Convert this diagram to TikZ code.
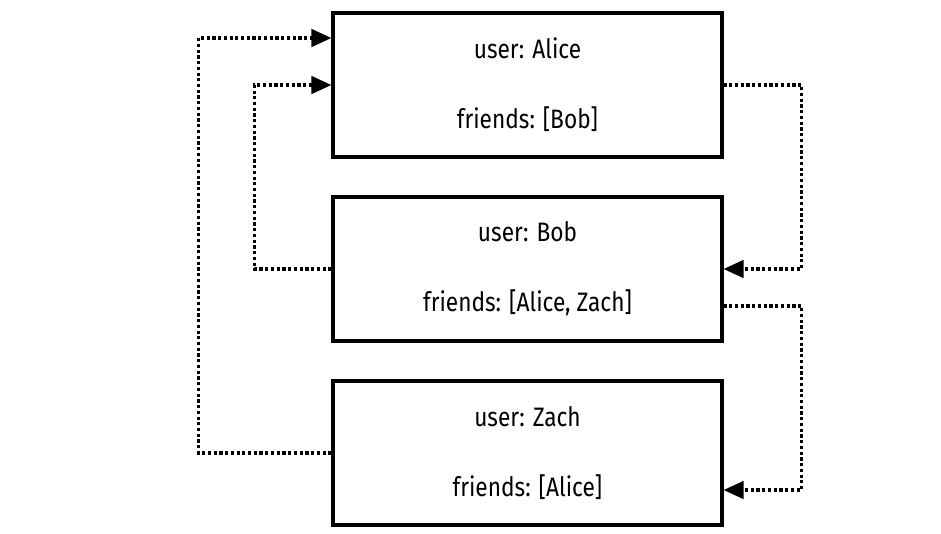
\documentclass[tikz,border=0pt]{standalone}
\usepackage{fontspec}
\setmainfont{Fira Sans}[FakeStretch=0.85]
\usepackage{tikz}
\usetikzlibrary{positioning,arrows.meta,calc}
\tikzset{
  userbox/.style={draw, line width=2.3pt, minimum width=389*0.75pt, minimum height=144*0.75pt,
    align=center, inner sep=0pt, font=\fontsize{20}{52.5}\selectfont},
  friendlink/.style={line width=2.6pt, dash pattern=on 2.4pt off 1.9pt,
    -{Triangle[length=15pt, width=13pt]}},
}

\begin{document}
\begin{tikzpicture}[x=0.75pt, y=-0.75pt]
  \useasboundingbox (0,0) rectangle (941,533);
  % users
  \node[userbox] (alice) at (527.5,85) {user: Alice\\friends: [Bob]};
  \node[userbox] (bob) at (527.5,269) {user: Bob\\friends: [Alice, Zach]};
  \node[userbox] (zach) at (527.5,453) {user: Zach\\friends: [Alice]};
  % friend links
  \draw[friendlink] (zach.west) -- ++(-133,0) |- ($(alice.west)+(0,-47)$);
  \draw[friendlink] (bob.west) -- ++(-77,0) |- (alice.west);
  \draw[friendlink] (alice.east) -- ++(78,0) |- (bob.east);
  \draw[friendlink] ($(bob.east)+(0,37)$) -- ++(78,0) |- ($(zach.east)+(0,37)$);
\end{tikzpicture}
\end{document}
